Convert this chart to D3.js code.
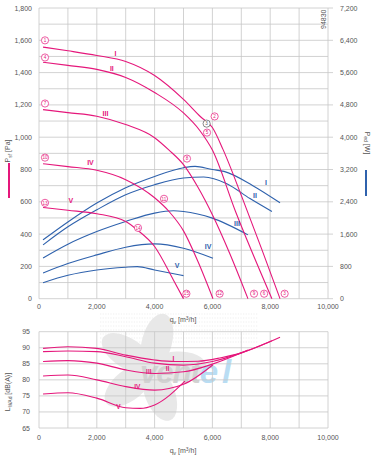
<!DOCTYPE html>
<html>
<head>
<meta charset="utf-8">
<script src="https://cdn.jsdelivr.net/npm/d3@7"></script>
<style>
  body { margin: 0; background: #fff; }
  svg { font-family: "Liberation Sans", Arial, sans-serif; }
  .tick { font-size: 7px; fill: #555; }
  .grid { stroke: #c6c6c6; stroke-width: 0.8; }
</style>
</head>
<body>
<script>
// flow rate ticks
const qTicks = [0, 2000, 4000, 6000, 8000, 10000];
const pTicks = [0, 200, 400, 600, 800, 1000, 1200, 1400, 1600, 1800];
const wTicks = [0, 800, 1600, 2400, 3200, 4000, 4800, 5600, 6400, 7200];
const dbTicks = [65, 70, 75, 80, 85, 90, 95];
const roman = ["I", "II", "III", "IV", "V"];

// pressure curves [q m3/h, Pa]
const pI = [[140,1558],[1000,1535],[2000,1506],[3000,1469],[4000,1382],[5000,1234],[5600,1125],[6000,1060],[6370,923],[7000,640],[7700,310],[8340,0]];
const pII = [[140,1464],[1000,1445],[2000,1420],[3000,1370],[4000,1277],[5000,1150],[5570,1040],[6000,920],[6800,540],[8060,0]];
const pIII = [[140,1171],[1000,1152],[2000,1130],[3000,1078],[4000,997],[4500,920],[5000,830],[5500,690],[6000,520],[6600,280],[7230,0]];
const pIV = [[140,836],[1000,818],[2000,795],[3000,737],[4000,625],[4500,540],[5000,420],[5500,230],[6020,0]];
const pV = [[140,565],[1000,548],[2000,526],[3000,478],[3400,426],[4000,323],[4650,116],[5000,0]];

// power input curves [q, W]
const wI = [[140,1457],[1000,1900],[2000,2368],[3000,2748],[4000,3029],[5000,3245],[5400,3277],[6000,3200],[6400,3153],[7400,2800],[8340,2375]];
const wII = [[140,1333],[1000,1780],[2000,2202],[3000,2574],[4000,2823],[5000,2990],[5700,3016],[6500,2850],[7300,2480],[8060,2160]];
const wIII = [[140,1010],[1000,1350],[2000,1663],[3000,1912],[4000,2120],[4650,2177],[5000,2160],[6000,1996],[7230,1581]];
const wIV = [[140,638],[1000,870],[2000,1085],[3000,1276],[4000,1358],[5000,1251],[6020,1003]];
const wV = [[140,397],[1000,580],[2000,712],[3000,780],[3400,795],[4000,712],[5000,571]];

// sound power curves [q, dB(A)]
const dI = [[140,89.8],[1000,90.3],[2000,89.8],[3000,87.7],[4000,86.2],[4700,85.7],[5500,85.8],[6300,86.9],[7000,88.4],[7700,90.8],[8340,93.3]];
const dII = [[140,88.8],[1000,89.0],[2000,88.8],[3000,87.2],[4000,85.2],[5000,84.6],[6000,85.7],[7000,88.4],[8060,92.2]];
const dIII = [[140,85.7],[1000,86.0],[2000,85.2],[3000,83.1],[4000,82.0],[5000,82.5],[6000,84.9],[7230,89.3]];
const dIV = [[140,81.2],[1000,81.5],[2000,80.0],[3000,77.9],[4000,76.8],[5000,78.6],[6020,84.7]];
const dV = [[140,75.6],[1000,76.0],[2000,74.3],[3000,71.3],[3500,71.1],[4000,72.2],[5050,79.6]];

// curve point markers: [q, Pa, number]
const startMarkers = [[0,1581,1],[0,1475,4],[0,1190,7],[0,855,10],[0,575,13]];
const kneeMarkers = [[5870,1110,2],[5606,1010,5],[4913,849,8],[4118,600,11],[3218,420,14]];
const endMarkers = [[8500,0,3],[7790,0,6],[7440,0,9],[6250,0,12],[5100,0,15]];

// roman label positions
const romanP = [[2650,1505],[2520,1410],[2300,1131],[1780,826],[1100,594]];
const romanW = [[7855,2823],[7474,2500],[6850,1805],[5850,1234],[4775,762]];
const romanD = [[4650,85.9],[4450,82.8],[3800,81.7],[3400,77.1],[2750,70.9]];

const pink = "#e5177b", blue = "#2f62ad";
const width = 376, height = 459;

const svg = d3.select("body").append("svg")
    .attr("width", width)
    .attr("height", height);

const x = d3.scaleLinear().domain([0, 10000]).range([39, 328]);
const yP = d3.scaleLinear().domain([0, 1800]).range([298.7, 8]);
const yW = d3.scaleLinear().domain([0, 7200]).range([298.7, 8]);
const yD = d3.scaleLinear().domain([65, 95]).range([428, 331.7]);

const fmt = d3.format(",");

// watermark in lower chart
const wm = svg.append("g");
wm.selectAll("line").data(d3.range(314, 346, 4)).enter().append("line")
    .attr("x1", 100).attr("x2", 258).attr("y1", d => d).attr("y2", d => d)
    .attr("stroke", "#efefef").attr("stroke-width", 1.2).attr("stroke-dasharray", "1.3,1.3");
for (let i = 0; i < 5; i++) {
    wm.append("ellipse")
        .attr("cx", 0).attr("cy", -27).attr("rx", 15).attr("ry", 29)
        .attr("fill", "#e8e8e8")
        .attr("transform", `translate(150,368) rotate(${i * 72 + 15}) `);
}
wm.append("text").attr("x", 140).attr("y", 383)
    .attr("font-size", 31).attr("font-weight", "bold").attr("font-style", "italic")
    .attr("letter-spacing", -1)
    .attr("fill", "#d2d2d2").text("vent")
    .append("tspan").attr("fill", "#b9ddf3").attr("font-size", 33).attr("letter-spacing", 4).text("el");

// grids
function grid(g, yScale, yValues, y0, y1) {
    g.selectAll(".v").data(d3.range(0, 10001, 1000)).enter().append("line")
        .attr("class", "grid")
        .attr("x1", d => x(d)).attr("x2", d => x(d))
        .attr("y1", y0).attr("y2", y1);
    g.selectAll(".h").data(yValues).enter().append("line")
        .attr("class", "grid")
        .attr("x1", x(0)).attr("x2", x(10000))
        .attr("y1", d => yScale(d)).attr("y2", d => yScale(d));
}
grid(svg.append("g"), yP, d3.range(0, 1801, 100), yP(1800), yP(0));
grid(svg.append("g"), yD, dbTicks, yD(95), yD(65));

// right side small ticks on top chart
svg.append("g").selectAll("line").data(pTicks).enter().append("line")
    .attr("class", "grid")
    .attr("x1", x(10000)).attr("x2", x(10000) + 5)
    .attr("y1", d => yP(d)).attr("y2", d => yP(d));

// tick labels
svg.append("g").selectAll("text").data(pTicks).enter().append("text")
    .attr("class", "tick").attr("text-anchor", "end")
    .attr("x", 32).attr("y", d => yP(d) + 2.5).text(d => fmt(d));
svg.append("g").selectAll("text").data(wTicks).enter().append("text")
    .attr("class", "tick").attr("text-anchor", "start")
    .attr("x", 340).attr("y", d => yW(d) + 2.5).text(d => fmt(d));
svg.append("g").selectAll("text").data(qTicks).enter().append("text")
    .attr("class", "tick").attr("text-anchor", "middle")
    .attr("x", d => x(d)).attr("y", 309).text(d => fmt(d));
svg.append("g").selectAll("text").data(dbTicks).enter().append("text")
    .attr("class", "tick").attr("text-anchor", "end")
    .attr("x", 30).attr("y", d => yD(d) + 2.5).text(d => d);
svg.append("g").selectAll("text").data(qTicks).enter().append("text")
    .attr("class", "tick").attr("text-anchor", "middle")
    .attr("x", d => x(d)).attr("y", 440).text(d => fmt(d));

// axis titles
function qTitle(yy) {
    const t = svg.append("text").attr("class", "tick").attr("text-anchor", "middle")
        .attr("x", 183).attr("y", yy).text("q");
    t.append("tspan").attr("font-size", 5).attr("dy", 1.5).text("v");
    t.append("tspan").attr("dy", -1.5).text(" [m");
    t.append("tspan").attr("font-size", 5).attr("dy", -2.5).text("3");
    t.append("tspan").attr("dy", 2.5).text("/h]");
}
qTitle(322);
qTitle(453);

function vTitle(xx, yy, rot, main, sub, unit) {
    const t = svg.append("text").attr("class", "tick").attr("text-anchor", "middle")
        .attr("transform", `translate(${xx},${yy}) rotate(${rot})`).text(main);
    t.append("tspan").attr("font-size", 5).attr("dy", 1.5).text(sub);
    t.append("tspan").attr("dy", -1.5).text(" " + unit);
}
vTitle(10, 151, -90, "P", "sf", "[Pa]");
vTitle(365, 143, 90, "P", "ed", "[W]");
vTitle(10, 392, -90, "L", "WAd", "[dB(A)]");
svg.append("rect").attr("x", 8).attr("y", 163).attr("width", 2).attr("height", 35).attr("fill", pink);
svg.append("rect").attr("x", 365).attr("y", 170).attr("width", 2).attr("height", 26).attr("fill", blue);

svg.append("text").attr("class", "tick").attr("font-size", 6)
    .attr("transform", "translate(326,29) rotate(-90)").text("94830");

// curves
const lineP = d3.line().x(d => x(d[0])).y(d => yP(d[1])).curve(d3.curveMonotoneX);
const lineW = d3.line().x(d => x(d[0])).y(d => yW(d[1])).curve(d3.curveMonotoneX);
const lineD = d3.line().x(d => x(d[0])).y(d => yD(d[1])).curve(d3.curveMonotoneX);

svg.append("g").selectAll("path").data([wI, wII, wIII, wIV, wV]).enter().append("path")
    .attr("d", lineW).attr("fill", "none").attr("stroke", blue).attr("stroke-width", 1.1);
svg.append("g").selectAll("path").data([pI, pII, pIII, pIV, pV]).enter().append("path")
    .attr("d", lineP).attr("fill", "none").attr("stroke", pink).attr("stroke-width", 1.1);
svg.append("g").selectAll("path").data([dI, dII, dIII, dIV, dV]).enter().append("path")
    .attr("d", lineD).attr("fill", "none").attr("stroke", pink).attr("stroke-width", 1.1);

// roman labels
function romanLabels(pts, yScale, color, size) {
    svg.append("g").selectAll("text").data(pts).enter().append("text")
        .attr("x", d => x(d[0])).attr("y", d => yScale(d[1]))
        .attr("text-anchor", "middle").attr("font-size", size).attr("font-weight", "bold")
        .attr("fill", color).text((d, i) => roman[i]);
}
romanLabels(romanP, yP, pink, 7);
romanLabels(romanW, yW, blue, 7);
romanLabels(romanD, yD, pink, 6.5);

// numbered markers
function markerGroup(data, dx, dy, color) {
    const mk = svg.append("g").selectAll("g").data(data).enter().append("g")
        .attr("transform", d => `translate(${x(d[0]) + dx},${yP(d[1]) + dy})`);
    mk.append("circle").attr("r", 3.6).attr("fill", "#fff").attr("stroke", color).attr("stroke-width", 0.7);
    mk.append("text").attr("text-anchor", "middle").attr("y", 1.7).attr("font-size", 4.6)
        .attr("fill", color).text(d => d[2]);
}
markerGroup(startMarkers, 6, -3, pink);
markerGroup(kneeMarkers, 6, -3, pink);
markerGroup(endMarkers, 0, -5, pink);
// operating point marker
markerGroup([[5800,1084,3]], 0, 0, "#555");
</script>
</body>
</html>
